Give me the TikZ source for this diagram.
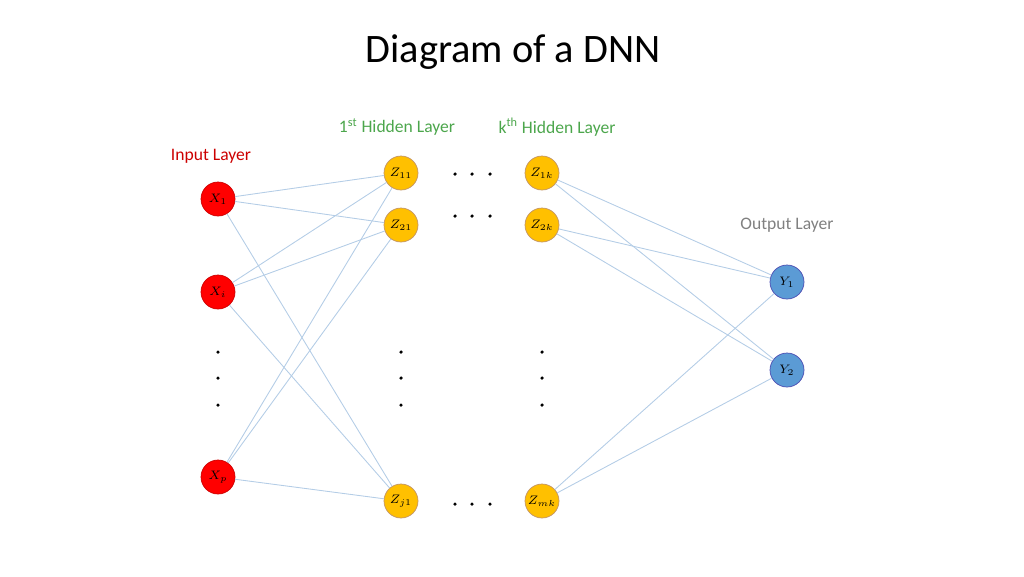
\documentclass[tikz,border=0pt]{standalone}
\usepackage{fontspec}
\setmainfont{Carlito}
\begin{document}
\begin{tikzpicture}[x=0.02cm,y=-0.02cm]
		\tikzset{input/.style = {shape=circle, draw=red!80!black, fill=red, minimum size=0.68cm, inner sep=0pt},
			hidden/.style = {shape=circle, draw=orange!60!black!60, fill={rgb,255:red,255;green,192;blue,0}, minimum size=0.68cm, inner sep=0pt},
			output/.style = {shape=circle, draw=blue!40!gray, fill={rgb,255:red,91;green,155;blue,213}, minimum size=0.68cm, inner sep=0pt},
			edge/.style = {draw={rgb,255:red,180;green,205;blue,230}, line width=0.5pt},
			dot/.style = {font=\small}}
		\useasboundingbox (0,0) rectangle (1024,576);

		\node (title) at (513,52) {\fontsize{23}{26}\selectfont Diagram of a DNN};

		\node[input] (X_1) at (218,199) {\scriptsize$X_1$};
		\node[input] (X_i) at (218,292) {\scriptsize$X_i$};
		\node[input] (X_p) at (218,477) {\scriptsize$X_p$};
		\node[text=red!80!black] (in) at (211,156) {Input Layer};

		\node[hidden] (Z_11) at (401,173) {\scriptsize$Z_{11}$};
		\node[hidden] (Z_21) at (401,225) {\scriptsize$Z_{21}$};
		\node[hidden] (Z_j1) at (401,501) {\scriptsize$Z_{j1}$};
		\node[text=green!50!black!70] (h1) at (397,127) {1\textsuperscript{st} Hidden Layer};

		\node[hidden] (Z_1k) at (542,173) {\scriptsize$Z_{1k}$};
		\node[hidden] (Z_2k) at (542,225) {\scriptsize$Z_{2k}$};
		\node[hidden] (Z_mk) at (542,501) {\scriptsize$Z_{mk}$};
		\node[text=green!50!black!70] (hk) at (557,127) {k\textsuperscript{th} Hidden Layer};

		\node[output] (Y_1) at (787,282) {\scriptsize$Y_1$};
		\node[output] (Y_2) at (787,370) {\scriptsize$Y_2$};
		\node[text=gray] (out) at (787,225) {Output Layer};

		\foreach \x in {218,401,542}
			\foreach \y in {352,378,405}
				\fill (\x,\y) circle (1pt);
		\foreach \y in {174,216,504}
			\foreach \x in {455,472,490}
				\fill (\x,\y) circle (1pt);

		\foreach \a in {X_1,X_i,X_p}
			\foreach \b in {Z_11,Z_21,Z_j1}
				\draw[edge] (\a)--(\b);

		\foreach \a in {Z_1k,Z_2k,Z_mk}
			\foreach \b in {Y_1,Y_2}
				\draw[edge] (\a)--(\b);

	\end{tikzpicture}
\end{document}
